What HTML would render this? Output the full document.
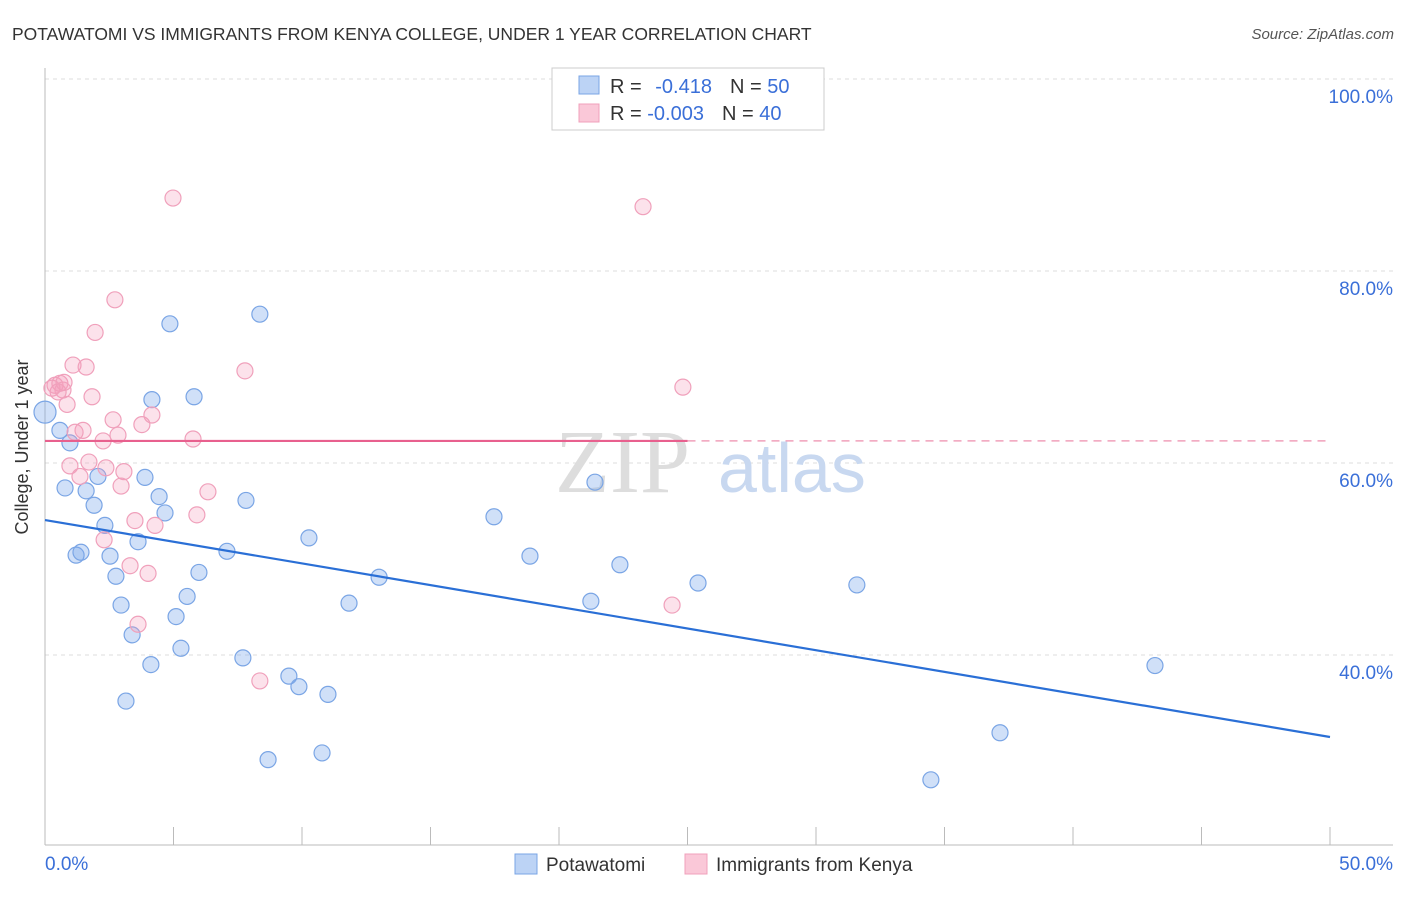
<!DOCTYPE html>
<html><head><meta charset="utf-8"><style>
body{margin:0;background:#fff;font-family:"Liberation Sans",sans-serif;}
</style></head><body>
<svg width="1406" height="892" xmlns="http://www.w3.org/2000/svg" style="font-family:'Liberation Sans',sans-serif">
<text x="12" y="40" font-size="17.5" fill="#333">POTAWATOMI VS IMMIGRANTS FROM KENYA COLLEGE, UNDER 1 YEAR CORRELATION CHART</text>
<text x="1394" y="39" font-size="15" fill="#555" font-style="italic" text-anchor="end">Source: ZipAtlas.com</text>
<g id="grid"></g>
<g id="axes"></g>
<text x="555" y="492" font-size="90" fill="#ddd" font-family="Liberation Serif,serif">ZIP</text>
<text x="718" y="492" font-size="70" fill="#c8d8f0">atlas</text>
<g id="marks"></g>
<text x="36" y="455" font-size="18" fill="#333" transform="rotate(-90 28 455)" text-anchor="middle">College, Under 1 year</text>
<g>
<rect x="552" y="68" width="272" height="62" fill="#fff" stroke="#ccc"/>
<rect x="579" y="76" width="20" height="18" fill="#bcd3f5" stroke="#7aa5e5"/>
<rect x="579" y="104" width="20" height="18" fill="#fac8d8" stroke="#f0a0bb"/>
<text x="610" y="93" font-size="20" fill="#333">R = <tspan fill="#3a6fd8" dx="8">-0.418</tspan><tspan dx="18" fill="#333">N = </tspan><tspan fill="#3a6fd8">50</tspan></text>
<text x="610" y="120" font-size="20" fill="#333">R = <tspan fill="#3a6fd8">-0.003</tspan><tspan dx="18" fill="#333">N = </tspan><tspan fill="#3a6fd8">40</tspan></text>
</g>
<g>
<rect x="515" y="854" width="22" height="20" fill="#bcd3f5" stroke="#7aa5e5"/>
<text x="546" y="871" font-size="19" fill="#333">Potawatomi</text>
<rect x="685" y="854" width="22" height="20" fill="#fac8d8" stroke="#f0a0bb"/>
<text x="716" y="871" font-size="19" fill="#333">Immigrants from Kenya</text>
</g>
<text x="45" y="870" font-size="19" fill="#3a6fd8">0.0%</text>
<text x="1393" y="870" font-size="19" fill="#3a6fd8" text-anchor="end">50.0%</text>
</svg>
<script>
const yTicks=[100,80,60,40];
const yTickLabels=["100.0%","80.0%","60.0%","40.0%"];
const blueX=[0,0.58,0.97,0.78,1.60,2.06,1.91,2.33,1.21,1.40,2.53,2.76,2.96,3.39,3.15,3.62,3.89,4.16,4.44,4.67,4.86,5.53,5.10,5.29,4.12,5.80,5.99,7.08,7.70,7.82,8.36,8.68,9.49,9.88,10.27,10.78,11.01,11.83,13.00,17.47,18.87,21.24,21.40,22.37,25.41,31.59,34.47,37.16,43.19];
const blueY=[65.3,63.4,62.1,57.4,57.1,58.6,55.6,53.5,50.4,50.7,50.3,48.2,45.2,42.1,35.2,51.8,58.5,66.6,56.5,54.8,74.5,46.1,44.0,40.7,39.0,66.9,48.6,50.8,39.7,56.1,75.5,29.1,37.8,36.7,52.2,29.8,35.9,45.4,48.1,54.4,50.3,45.6,58.0,49.4,47.5,47.3,27.0,31.9,38.9];
const pinkX=[4.98,23.27,2.72,1.95,1.09,1.60,0.39,0.58,0.70,0.51,0.74,0.27,0.86,1.83,7.78,24.82,4.16,3.77,2.65,2.84,2.26,1.48,1.17,5.76,0.97,1.71,1.36,2.37,3.07,2.96,6.34,5.91,3.50,4.28,2.30,3.31,4.01,3.62,8.36,24.40];
const pinkY=[87.6,86.7,77.0,73.6,70.2,70.0,68.1,68.3,67.6,67.4,68.4,67.8,66.1,66.9,69.6,67.9,65.0,64.0,64.5,62.9,62.3,63.4,63.2,62.5,59.7,60.1,58.6,59.5,59.1,57.6,57.0,54.6,54.0,53.5,52.0,49.3,48.5,43.2,37.3,45.2];
const blueTrend=[54.06,31.46];
const pinkTrend=[62.3,62.3];
const pinkSolidEnd=25.0;
const xTicks=[0,5,10,15,20,25,30,35,40,45,50];

const NS="http://www.w3.org/2000/svg";
const sx=v=>45+v/50*1285;
const sy=v=>79+(100-v)/20*192;
function mk(tag,attrs,parent){const e=document.createElementNS(NS,tag);for(const k in attrs)e.setAttribute(k,attrs[k]);parent.appendChild(e);return e;}
const grid=document.getElementById('grid'),axes=document.getElementById('axes'),marks=document.getElementById('marks');
yTicks.forEach((t,i)=>{
  const l=mk('line',{x1:45,x2:1393,y1:sy(t),y2:sy(t),stroke:'#ddd','stroke-dasharray':'4,4'},grid);
  
  
  const tx=mk('text',{x:1393,y:sy(t)+24,'font-size':19,fill:'#3a6fd8','text-anchor':'end'},grid);
  tx.textContent=yTickLabels[i];
  
  
});
mk('line',{x1:45,x2:45,y1:68,y2:845,stroke:'#bbb'},axes);
mk('line',{x1:45,x2:1393,y1:845,y2:845,stroke:'#bbb'},axes);
xTicks.forEach(t=>{
  const l=mk('line',{x1:sx(t),x2:sx(t),y1:827,y2:845,stroke:'#bbb'},axes);
  
  
});
blueX.forEach((x,i)=>{
  const c=mk('circle',{cx:sx(x),cy:sy(blueY[i]),r:(i===0?11:8),fill:'rgba(120,165,235,0.35)',stroke:'#7aa5e5','stroke-width':1.2},marks);
  
  
});
pinkX.forEach((x,i)=>{
  const c=mk('circle',{cx:sx(x),cy:sy(pinkY[i]),r:8,fill:'rgba(245,160,190,0.3)',stroke:'#f0a0bb','stroke-width':1.2},marks);
  
  
});
const bl=mk('line',{x1:sx(0),y1:sy(blueTrend[0]),x2:sx(50),y2:sy(blueTrend[1]),stroke:'#2a6fd6','stroke-width':2.2},marks);


const ps=mk('line',{x1:sx(0),y1:sy(pinkTrend[0]),x2:sx(pinkSolidEnd),y2:sy(pinkTrend[0]),stroke:'#e8608e','stroke-width':2.2},marks);


const pd=mk('line',{x1:sx(pinkSolidEnd),y1:sy(pinkTrend[0]),x2:sx(50),y2:sy(pinkTrend[1]),stroke:'#f0a0bb','stroke-width':1.5,'stroke-dasharray':'8,6'},marks);


</script>
</body></html>
